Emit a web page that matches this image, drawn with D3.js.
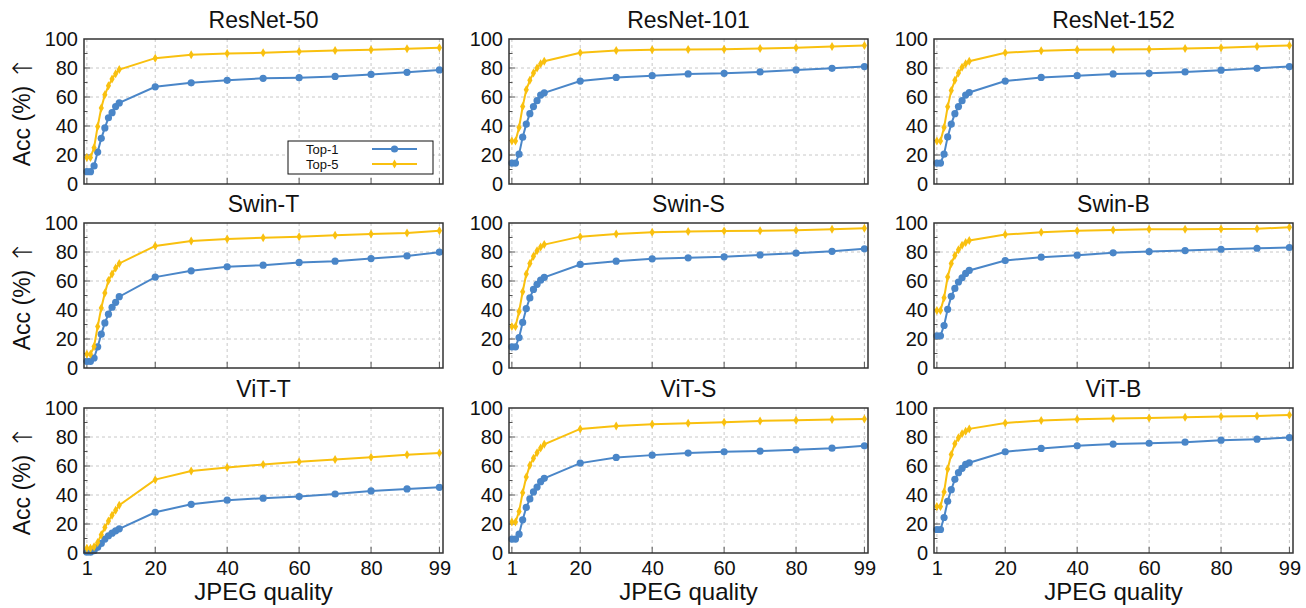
<!DOCTYPE html>
<html>
<head>
<meta charset="utf-8">
<script src="https://cdn.jsdelivr.net/npm/d3@7"></script>
<style>
  html, body { margin: 0; padding: 0; background: #fff; }
  svg { display: block; font-family: "Liberation Sans", Arial, Helvetica, sans-serif; }
</style>
</head>
<body>
<svg id="chart" width="1306" height="608"></svg>
<script>
// ---- data ----
const quality = [1, 2, 3, 4, 5, 6, 7, 8, 9, 10, 20, 30, 40, 50, 60, 70, 80, 90, 99];
const models = ["ResNet-50", "ResNet-101", "ResNet-152", "Swin-T", "Swin-S", "Swin-B", "ViT-T", "ViT-S", "ViT-B"];
const seriesNames = ["Top-1", "Top-5"];
const xTickValues = [1, 20, 40, 60, 80, 99];
const yTickValues = [0, 20, 40, 60, 80, 100];

const top1_resnet50  = [8.5, 8.5, 12.5, 22, 31.5, 38.7, 45.7, 49.2, 53.4, 55.9, 67, 69.8, 71.5, 72.9, 73.3, 74.2, 75.6, 77, 78.7];
const top5_resnet50  = [18.3, 18.3, 25, 39.7, 52.4, 61.5, 67.7, 72.4, 76.1, 78.9, 86.8, 89.1, 90, 90.5, 91.4, 92.1, 92.6, 93.3, 94];
const top1_resnet101 = [14.4, 14.4, 20.6, 32.3, 41.3, 48.5, 53.4, 57.5, 61.3, 62.9, 71, 73.5, 74.7, 75.9, 76.3, 77.3, 78.7, 79.8, 81];
const top5_resnet101 = [29.7, 29.7, 39, 53.4, 65, 71.5, 76.6, 80, 83, 84.7, 90.5, 92.1, 92.6, 92.8, 93, 93.5, 94, 94.9, 95.6];
const top1_resnet152 = [14.4, 14.4, 20.6, 32.5, 41.3, 48.5, 53.4, 57.5, 61.3, 63.1, 71, 73.5, 74.7, 75.9, 76.3, 77.3, 78.5, 79.8, 81];
const top5_resnet152 = [29.7, 29.7, 39, 53.2, 64.5, 71.5, 76.6, 80.5, 83, 84.7, 90.5, 91.9, 92.6, 92.8, 93, 93.5, 94, 94.9, 95.6];
const top1_swint     = [4.6, 4.6, 6.9, 14.6, 23.3, 31.1, 37.1, 41.9, 45.3, 49.2, 62.7, 67, 69.8, 70.9, 72.8, 73.7, 75.5, 77.3, 79.9];
const top5_swint     = [9.4, 9.4, 14.9, 28.6, 41.4, 51.7, 60.4, 64.8, 68.9, 72.1, 84.2, 87.6, 89, 89.9, 90.6, 91.5, 92.4, 93.1, 94.7];
const top1_swins     = [14.6, 14.6, 21, 31.4, 41, 48.3, 54.2, 57.7, 60.6, 62.5, 71.4, 73.7, 75.3, 76, 76.7, 78, 79.2, 80.5, 82.2];
const top5_swins     = [28.6, 28.6, 38.9, 52.6, 64.8, 72.1, 77.1, 80.8, 83.5, 85.1, 90.6, 92.4, 93.6, 94.1, 94.5, 94.7, 95, 95.7, 96.3];
const top1_swinb     = [22.2, 22.2, 29.3, 40.5, 49.4, 54.9, 59.3, 62.2, 65.2, 67.3, 74.1, 76.4, 77.8, 79.4, 80.3, 81, 81.9, 82.6, 83.1];
const top5_swinb     = [39.6, 39.6, 48.5, 62.7, 72.1, 77.6, 81.5, 84.7, 86.5, 87.9, 92, 93.6, 94.7, 95.2, 95.7, 95.7, 95.9, 96.1, 97];
const top1_vitt      = [0.5, 0.5, 1.6, 3.9, 6.6, 9.6, 11.9, 13.7, 15.3, 16.7, 28.1, 33.6, 36.4, 37.8, 38.9, 40.7, 42.8, 44.2, 45.3];
const top5_vitt      = [3.2, 3.2, 4.3, 7.3, 12.6, 17.6, 22, 26.1, 29.5, 33, 50.6, 56.5, 59, 61.1, 62.9, 64.5, 66.1, 67.7, 68.9];
const top1_vits      = [9.6, 9.6, 13, 22.9, 31.4, 37.3, 42.1, 45.5, 49.2, 51.5, 62, 65.9, 67.5, 68.9, 69.8, 70.3, 71.2, 72.3, 73.9];
const top5_vits      = [21.3, 21.3, 28.6, 41.6, 52.4, 60.6, 65.4, 69.1, 72.5, 75, 85.6, 87.6, 88.8, 89.5, 90.2, 91.1, 91.5, 92, 92.4];
const top1_vitb      = [16.2, 16.2, 24.5, 35.7, 43.7, 50.8, 55.4, 58.4, 61.1, 62.2, 69.8, 72.1, 73.9, 75.1, 75.7, 76.4, 77.8, 78.5, 79.6];
const top5_vitb      = [32, 32, 42.1, 57.9, 68, 75.3, 79.4, 82.2, 84, 85.6, 89.7, 91.3, 92.2, 92.7, 93.1, 93.6, 94.1, 94.5, 95.2];

const top1 = [top1_resnet50, top1_resnet101, top1_resnet152, top1_swint, top1_swins, top1_swinb, top1_vitt, top1_vits, top1_vitb];
const top5 = [top5_resnet50, top5_resnet101, top5_resnet152, top5_swint, top5_swins, top5_swinb, top5_vitt, top5_vits, top5_vitb];

// ---- layout ----
const colLeft = [84, 509, 934];
const rowTop = [39, 223, 408];
const pw = 359, ph = 145;
const colors = ["#4a86c8", "#f9c00f"];
const frameColor = "#333";
const gridColor = "#c8c8c8";
const fontFam = "Liberation Sans, Arial, sans-serif";

const svg = d3.select("#chart");

models.forEach((name, i) => {
  const c = i % 3, r = Math.floor(i / 3);
  const g = svg.append("g").attr("transform", `translate(${colLeft[c]},${rowTop[r]})`);
  const x = d3.scaleLinear().domain([0.2, 100]).range([0, pw]);
  const y = d3.scaleLinear().domain([0, 100]).range([ph, 0]);

  // grid
  g.append("g").selectAll("line").data(xTickValues).join("line")
    .attr("x1", d => x(d)).attr("x2", d => x(d)).attr("y1", 0).attr("y2", ph)
    .attr("stroke", gridColor).attr("stroke-width", 1).attr("stroke-dasharray", "3,3");
  g.append("g").selectAll("line").data(yTickValues.filter(v => v > 0 && v < 100)).join("line")
    .attr("x1", 0).attr("x2", pw).attr("y1", d => y(d)).attr("y2", d => y(d))
    .attr("stroke", gridColor).attr("stroke-width", 1).attr("stroke-dasharray", "3,3");

  // inner ticks (major + minor) on left, major on bottom
  const yMinor = d3.range(10, 100, 20);
  g.append("g").selectAll("line").data(yTickValues.filter(v => v > 0 && v < 100)).join("line")
    .attr("x1", 0).attr("x2", 6).attr("y1", d => y(d)).attr("y2", d => y(d))
    .attr("stroke", "#555").attr("stroke-width", 1);
  g.append("g").selectAll("line").data(yMinor).join("line")
    .attr("x1", 0).attr("x2", 3.5).attr("y1", d => y(d)).attr("y2", d => y(d))
    .attr("stroke", "#555").attr("stroke-width", 1);
  g.append("g").selectAll("line").data(xTickValues).join("line")
    .attr("x1", d => x(d)).attr("x2", d => x(d)).attr("y1", ph).attr("y2", ph - 6)
    .attr("stroke", "#555").attr("stroke-width", 1);

  // y tick labels via d3 axis
  const yAxis = g.append("g")
    .call(d3.axisLeft(y).tickValues(yTickValues).tickSize(0).tickPadding(6));
  yAxis.select(".domain").remove();
  yAxis.selectAll("text").attr("font-size", 20).attr("fill", "#111")
    .attr("font-family", fontFam);

  // x tick labels on bottom row
  if (r === 2) {
    const xAxis = g.append("g").attr("transform", `translate(0,${ph})`)
      .call(d3.axisBottom(x).tickValues(xTickValues).tickSize(0).tickPadding(8));
    xAxis.select(".domain").remove();
    xAxis.selectAll("text").attr("font-size", 20).attr("fill", "#111")
      .attr("font-family", fontFam);
    g.append("text").attr("x", pw / 2).attr("y", ph + 47)
      .attr("text-anchor", "middle").attr("font-size", 24).attr("fill", "#111")
      .text("JPEG quality");
  }

  // y label on first column
  if (c === 0) {
    const t = g.append("text")
      .attr("transform", `translate(${-62},${ph / 2}) rotate(-90)`)
      .attr("text-anchor", "middle").attr("dominant-baseline", "central")
      .attr("font-size", 23).attr("fill", "#111");
    t.append("tspan").text("Acc (%) ");
    t.append("tspan").attr("font-family", "DejaVu Sans").attr("font-size", 27)
      .attr("font-weight", 200).text("↑");
  }

  // title
  g.append("text").attr("x", pw / 2).attr("y", -11)
    .attr("text-anchor", "middle").attr("font-size", 23).attr("fill", "#111")
    .text(name);

  // series
  const line = d3.line().x((d, k) => x(quality[k])).y(d => y(d));
  [top1[i], top5[i]].forEach((vals, s) => {
    g.append("path").datum(vals).attr("d", line)
      .attr("fill", "none").attr("stroke", colors[s]).attr("stroke-width", 2);
    if (s === 0) {
      g.append("g").selectAll("circle").data(vals).join("circle")
        .attr("cx", (d, k) => x(quality[k])).attr("cy", d => y(d)).attr("r", 3.6)
        .attr("fill", colors[s]);
    } else {
      g.append("g").selectAll("path").data(vals).join("path")
        .attr("transform", (d, k) => `translate(${x(quality[k])},${y(d)})`)
        .attr("d", "M0,-4.5L2.6,0L0,4.5L-2.6,0Z")
        .attr("fill", colors[s]);
    }
  });

  // frame
  g.append("rect").attr("x", 0).attr("y", 0).attr("width", pw).attr("height", ph)
    .attr("fill", "none").attr("stroke", frameColor).attr("stroke-width", 1.5);

  // legend in first panel
  if (i === 0) {
    const lg = g.append("g").attr("transform", `translate(${288 - colLeft[0]},${141 - rowTop[0]})`);
    lg.append("rect").attr("width", 145).attr("height", 33)
      .attr("fill", "#fff").attr("stroke", "#111").attr("stroke-width", 1);
    seriesNames.forEach((sn, s) => {
      const yy = 8 + s * 15;
      lg.append("text").attr("x", 18).attr("y", yy).attr("dominant-baseline", "central")
        .attr("font-size", 13).attr("fill", "#111").text(sn);
      lg.append("line").attr("x1", 84).attr("x2", 129).attr("y1", yy).attr("y2", yy)
        .attr("stroke", colors[s]).attr("stroke-width", 2);
      if (s === 0) {
        lg.append("circle").attr("cx", 106.5).attr("cy", yy).attr("r", 3.6).attr("fill", colors[s]);
      } else {
        lg.append("path").attr("transform", `translate(106.5,${yy})`)
          .attr("d", "M0,-4.5L2.6,0L0,4.5L-2.6,0Z").attr("fill", colors[s]);
      }
    });
  }
});
</script>
</body>
</html>
